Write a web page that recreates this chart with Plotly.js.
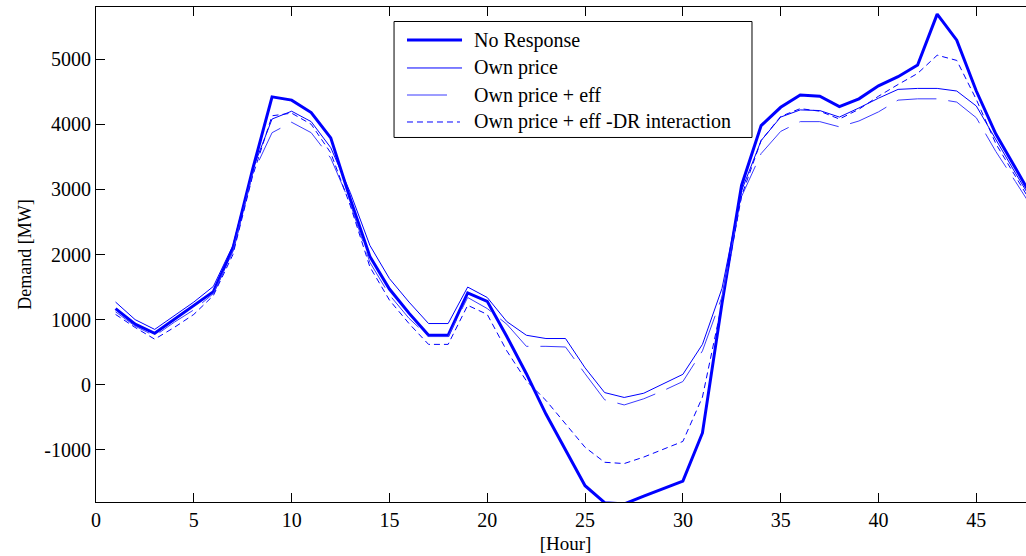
<!DOCTYPE html>
<html><head><meta charset="utf-8">
<script src="https://cdn.plot.ly/plotly-3.0.1.min.js"></script>
<style>html,body{margin:0;padding:0;overflow:hidden;background:#fff}#chart{width:1045px;height:556px}</style>
</head><body><div id="chart"></div>
<script>
const hours = [1,2,3,4,5,6,7,8,9,10,11,12,13,14,15,16,17,18,19,20,21,22,23,24,25,26,27,28,29,30,31,32,33,34,35,36,37,38,39,40,41,42,43,44,45,46,47,48];
const noResponse = [1170,930,790,1000,1210,1430,2095,3300,4420,4370,4180,3790,2850,1970,1470,1100,760,760,1410,1280,740,170,-450,-1010,-1550,-1810,-1830,-1710,-1590,-1480,-740,1250,3060,3980,4260,4450,4430,4270,4390,4590,4730,4910,5690,5290,4510,3850,3330,2800];
const ownPrice = [1270,1000,850,1060,1270,1510,2140,3300,4080,4200,4040,3640,2950,2140,1630,1270,940,940,1500,1340,970,760,710,710,260,-120,-195,-130,10,160,620,1480,2980,3750,4110,4220,4210,4110,4250,4400,4535,4550,4550,4510,4280,3760,3250,2750];
const ownPriceEff = [1120,900,750,960,1150,1400,2050,3230,3870,4030,3870,3480,2780,1880,1380,1020,740,740,1340,1170,930,590,590,580,170,-230,-310,-215,-90,50,520,1350,2890,3550,3890,4040,4040,3960,4050,4190,4370,4390,4390,4340,4100,3580,3120,2650];
const ownPriceEffDR = [1080,880,700,880,1080,1370,2000,3200,4130,4170,4000,3560,2750,1810,1300,940,620,620,1220,1080,520,60,-240,-600,-960,-1190,-1210,-1110,-990,-870,-190,1250,2900,3750,4120,4240,4200,4080,4230,4430,4610,4780,5060,4980,4380,3700,3200,2700];
const seriesNames = ['No Response','Own price','Own price + eff','Own price + eff -DR interaction'];
const xTickVals = [0,5,10,15,20,25,30,35,40,45];
const xTickText = ['0','5','10','15','20','25','30','35','40','45'];
const yTickVals = [-1000,0,1000,2000,3000,4000,5000];
const yTickText = ['-1000','0','1000','2000','3000','4000','5000'];

const serif = 'Liberation Serif';
const styles = [
  {color:'#0000ff', width:3, dash:'solid'},
  {color:'#0000ff', width:1, dash:'solid'},
  {color:'#3a3aff', width:1, dash:'40px,12px'},
  {color:'#0000ff', width:1, dash:'6px,4px'}
];
const seriesData = [noResponse, ownPrice, ownPriceEff, ownPriceEffDR];

const traces = seriesData.map((ys, i) => ({
  x: hours, y: ys, type:'scatter', mode:'lines', name: seriesNames[i],
  line: {color: styles[i].color, width: styles[i].width, dash: styles[i].dash},
  showlegend:false, hoverinfo:'skip'
}));

// manual MATLAB-style legend (paper coordinates)
const legX0 = 0.3174, legX1 = 0.6986, legY0 = 0.7364, legY1 = 0.9707;
const rowY = [0.9333, 0.8768, 0.8222, 0.7677];
const lineEnd = [0.3898, 0.3898, 0.3791, 0.3876];
const shapes = [{type:'rect', xref:'paper', yref:'paper', x0:legX0, x1:legX1, y0:legY0, y1:legY1,
  line:{color:'#000', width:1}, fillcolor:'#fff', layer:'above'}];
const annotations = [];
seriesNames.forEach((n, i) => {
  shapes.push({type:'line', xref:'paper', yref:'paper', x0:0.3312, x1:lineEnd[i], y0:rowY[i], y1:rowY[i],
    line:{color:styles[i].color, width:styles[i].width, dash:styles[i].dash}, layer:'above'});
  annotations.push({xref:'paper', yref:'paper', x:0.4004, y:rowY[i], xanchor:'left', yanchor:'middle',
    text:n, showarrow:false, font:{family:serif, size:20, color:'#000'}});
});

const layout = {
  width:1045, height:556,
  margin:{l:96, r:10, t:7, b:54},
  paper_bgcolor:'#fff', plot_bgcolor:'#fff',
  showlegend:false,
  xaxis:{range:[0,48], tickvals:xTickVals, ticktext:xTickText, ticks:'inside', ticklen:9, tickcolor:'#000',
    showline:true, linecolor:'#000', linewidth:1, mirror:'ticks', showgrid:false, zeroline:false,
    tickfont:{family:serif, size:20, color:'#000'},
    title:{text:'[Hour]', font:{family:serif, size:19, color:'#000'}, standoff:6}},
  yaxis:{range:[-1800,5800], tickvals:yTickVals, ticktext:yTickText, ticks:'inside', ticklen:9, tickcolor:'#000',
    showline:true, linecolor:'#000', linewidth:1, mirror:'ticks', showgrid:false, zeroline:false,
    tickfont:{family:serif, size:20, color:'#000'},
    title:{text:'Demand [MW]', font:{family:serif, size:18, color:'#000'}, standoff:8}},
  shapes: shapes, annotations: annotations
};
Plotly.newPlot('chart', traces, layout, {staticPlot:true, displayModeBar:false});
</script></body></html>
